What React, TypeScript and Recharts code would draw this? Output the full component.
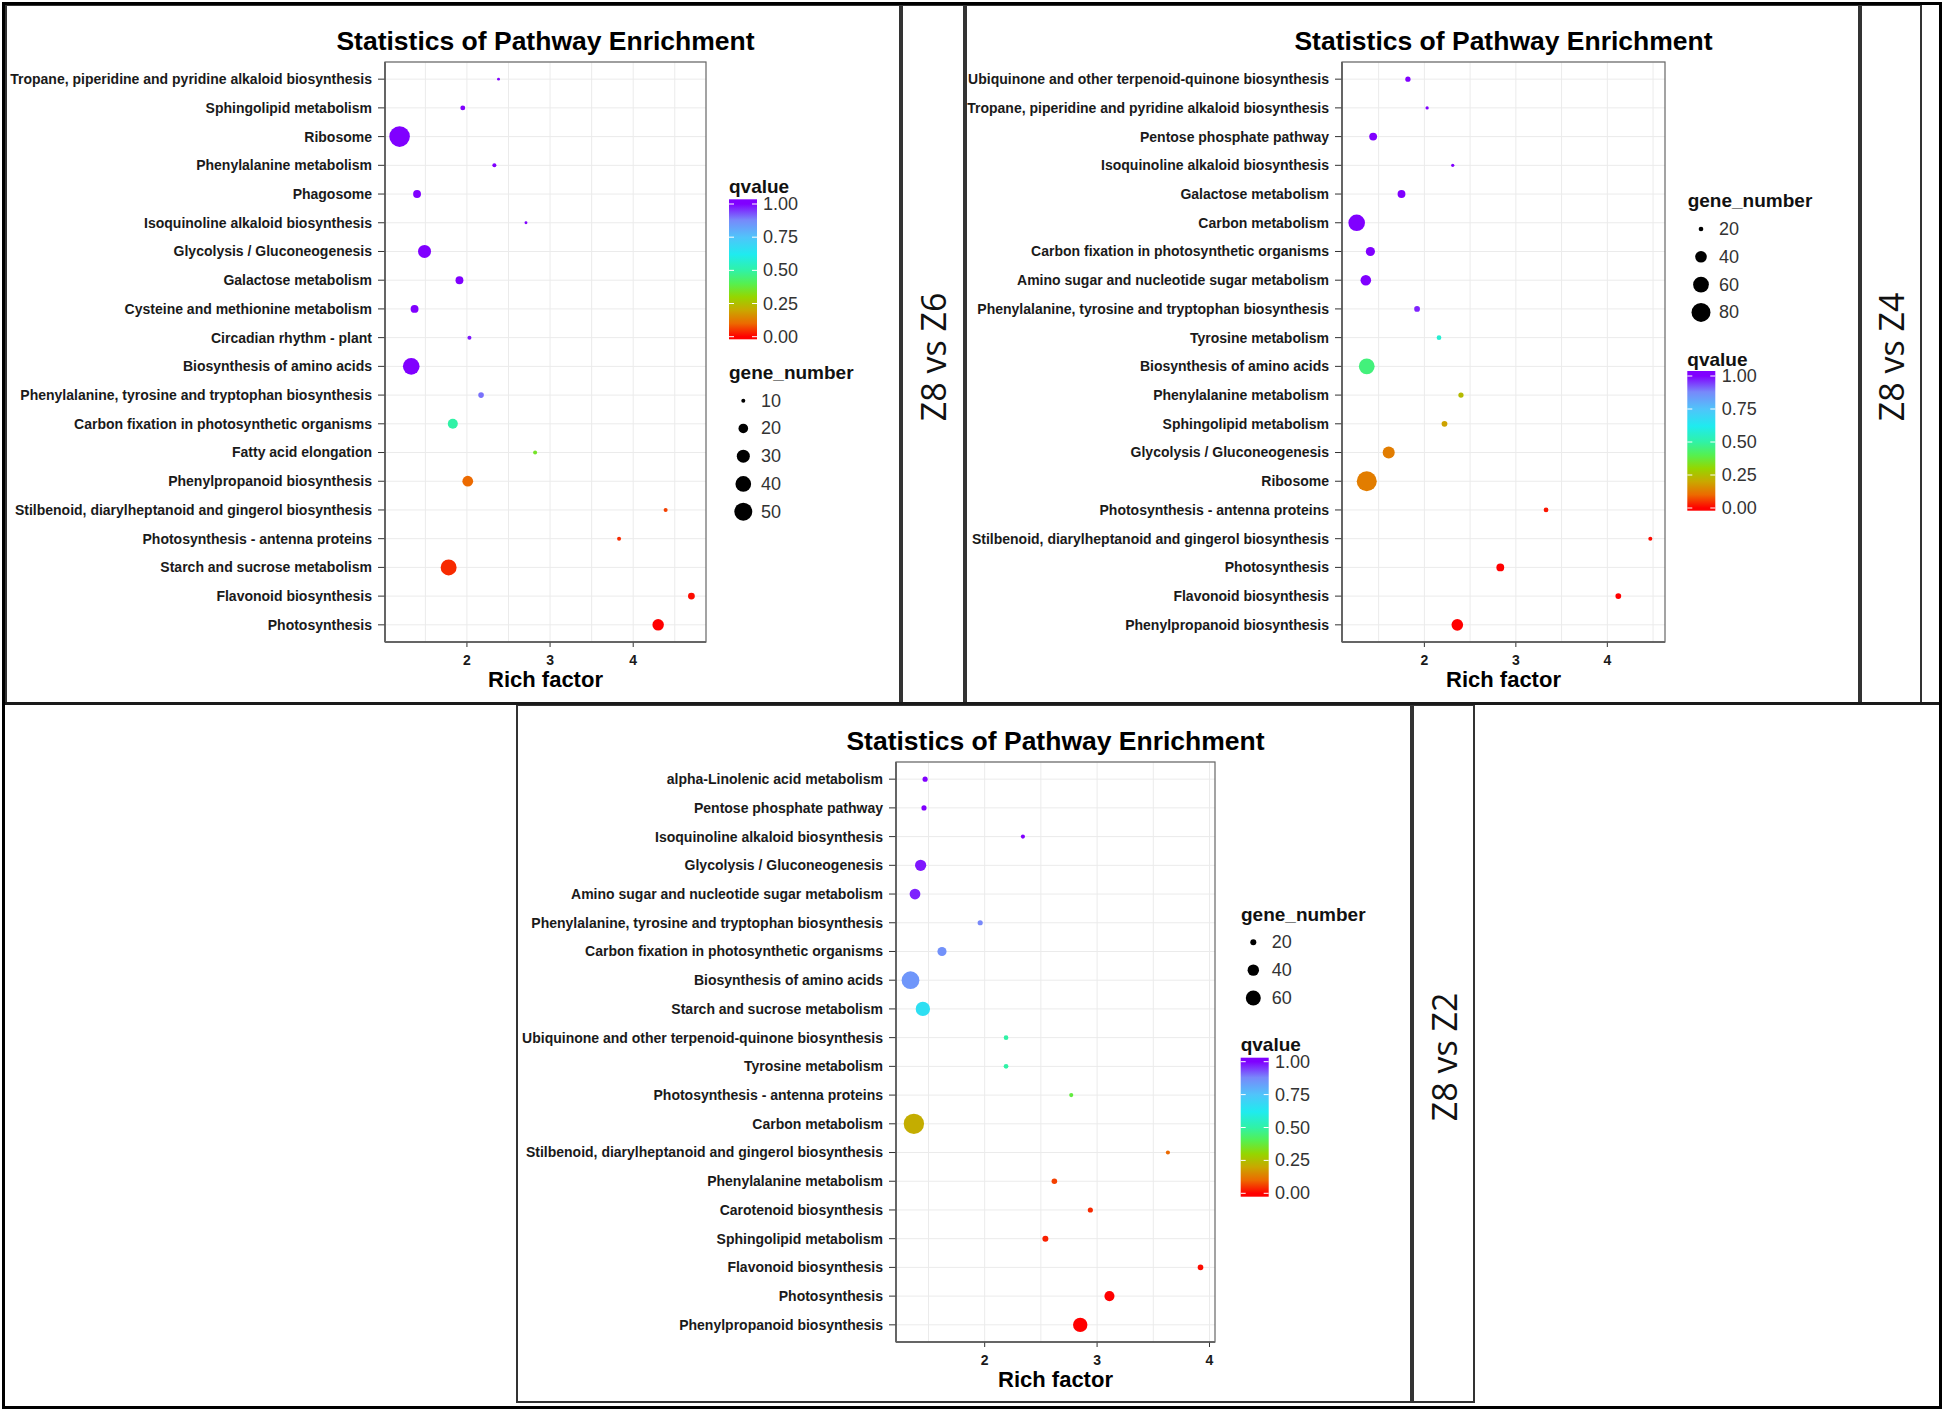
import React from 'react';
import { ScatterChart, Scatter, XAxis, YAxis, ZAxis, CartesianGrid, Cell } from 'recharts';

// ---- Z8 vs Z6 (top left), listed top to bottom
const z6Pathways = [
  'Tropane, piperidine and pyridine alkaloid biosynthesis',
  'Sphingolipid metabolism',
  'Ribosome',
  'Phenylalanine metabolism',
  'Phagosome',
  'Isoquinoline alkaloid biosynthesis',
  'Glycolysis / Gluconeogenesis',
  'Galactose metabolism',
  'Cysteine and methionine metabolism',
  'Circadian rhythm - plant',
  'Biosynthesis of amino acids',
  'Phenylalanine, tyrosine and tryptophan biosynthesis',
  'Carbon fixation in photosynthetic organisms',
  'Fatty acid elongation',
  'Phenylpropanoid biosynthesis',
  'Stilbenoid, diarylheptanoid and gingerol biosynthesis',
  'Photosynthesis - antenna proteins',
  'Starch and sucrose metabolism',
  'Flavonoid biosynthesis',
  'Photosynthesis',
];
const z6Rich = [2.38, 1.95, 1.19, 2.33, 1.4, 2.71, 1.49, 1.91, 1.37, 2.03, 1.33, 2.17, 1.83, 2.82, 2.01, 4.39, 3.83, 1.78, 4.7, 4.3];
const z6Genes = [9, 11, 63, 10, 16, 9, 30, 16, 16, 10, 44, 12, 21, 10, 23, 10, 10, 41, 14, 25];
const z6Q = [1, 1, 1, 1, 1, 1, 1, 1, 1, 0.98, 1, 0.9, 0.5, 0.35, 0.1, 0.06, 0.04, 0.04, 0.01, 0];

// ---- Z8 vs Z4 (top right)
const z4Pathways = [
  'Ubiquinone and other terpenoid-quinone biosynthesis',
  'Tropane, piperidine and pyridine alkaloid biosynthesis',
  'Pentose phosphate pathway',
  'Isoquinoline alkaloid biosynthesis',
  'Galactose metabolism',
  'Carbon metabolism',
  'Carbon fixation in photosynthetic organisms',
  'Amino sugar and nucleotide sugar metabolism',
  'Phenylalanine, tyrosine and tryptophan biosynthesis',
  'Tyrosine metabolism',
  'Biosynthesis of amino acids',
  'Phenylalanine metabolism',
  'Sphingolipid metabolism',
  'Glycolysis / Gluconeogenesis',
  'Ribosome',
  'Photosynthesis - antenna proteins',
  'Stilbenoid, diarylheptanoid and gingerol biosynthesis',
  'Photosynthesis',
  'Flavonoid biosynthesis',
  'Phenylpropanoid biosynthesis',
];
const z4Rich = [1.82, 2.03, 1.44, 2.31, 1.75, 1.26, 1.41, 1.36, 1.92, 2.16, 1.37, 2.4, 2.22, 1.61, 1.37, 3.33, 4.47, 2.83, 4.12, 2.36];
const z4Genes = [21, 18, 27, 18, 27, 65, 31, 36, 22, 20, 60, 21, 22, 42, 87, 20, 19, 27, 22, 40];
const z4Q = [1, 1, 1, 1, 1, 1, 1, 1, 0.97, 0.57, 0.45, 0.24, 0.19, 0.13, 0.13, 0.02, 0.01, 0, 0, 0];

// ---- Z8 vs Z2 (bottom)
const z2Pathways = [
  'alpha-Linolenic acid metabolism',
  'Pentose phosphate pathway',
  'Isoquinoline alkaloid biosynthesis',
  'Glycolysis / Gluconeogenesis',
  'Amino sugar and nucleotide sugar metabolism',
  'Phenylalanine, tyrosine and tryptophan biosynthesis',
  'Carbon fixation in photosynthetic organisms',
  'Biosynthesis of amino acids',
  'Starch and sucrose metabolism',
  'Ubiquinone and other terpenoid-quinone biosynthesis',
  'Tyrosine metabolism',
  'Photosynthesis - antenna proteins',
  'Carbon metabolism',
  'Stilbenoid, diarylheptanoid and gingerol biosynthesis',
  'Phenylalanine metabolism',
  'Carotenoid biosynthesis',
  'Sphingolipid metabolism',
  'Flavonoid biosynthesis',
  'Photosynthesis',
  'Phenylpropanoid biosynthesis',
];
const z2Rich = [1.47, 1.46, 2.34, 1.43, 1.38, 1.96, 1.62, 1.34, 1.45, 2.19, 2.19, 2.77, 1.37, 3.63, 2.62, 2.94, 2.54, 3.92, 3.11, 2.85];
const z2Genes = [18, 18, 16, 39, 37, 18, 30, 79, 56, 17, 17, 16, 100, 16, 19, 18, 20, 19, 34, 56];
const z2Q = [1, 1, 1, 0.98, 0.97, 0.88, 0.86, 0.85, 0.66, 0.5, 0.5, 0.38, 0.21, 0.1, 0.06, 0.04, 0.03, 0.01, 0, 0];

const qBreaks = [1, 0.75, 0.5, 0.25, 0];
const xTicks = [2, 3, 4];
const minorX = [1.5, 2, 2.5, 3, 3.5, 4, 4.5];

// rainbow-ish qvalue palette
const qStops: [number, string][] = [
  [0, '#ff0000'],
  [0.1, '#ec6a00'],
  [0.2, '#c9a800'],
  [0.3, '#95d600'],
  [0.4, '#55f050'],
  [0.5, '#30f2a6'],
  [0.62, '#1febef'],
  [0.75, '#50c4fa'],
  [0.88, '#7888fa'],
  [1, '#8000ff'],
];

function hexToRgb(h: string) {
  return [1, 3, 5].map((i) => parseInt(h.slice(i, i + 2), 16));
}

function qColor(q: number) {
  for (let i = 1; i < qStops.length; i++) {
    const [q1, c1] = qStops[i];
    const [q0, c0] = qStops[i - 1];
    if (q <= q1) {
      const t = (q - q0) / (q1 - q0);
      const a = hexToRgb(c0);
      const b = hexToRgb(c1);
      const m = a.map((v, k) => Math.round(v + (b[k] - v) * t));
      return `rgb(${m[0]},${m[1]},${m[2]})`;
    }
  }
  return qStops[qStops.length - 1][1];
}

const FONT = '"Liberation Sans", Arial, Helvetica, sans-serif';

type Box = { x: number; y: number; w: number; h: number };

type PanelCfg = {
  id: string;
  label: string;
  box: Box;
  labelBox: Box;
  plot: { x0: number; x1: number; y0: number; y1: number };
  names: string[];
  rich: number[];
  genes: number[];
  q: number[];
  size: { lo: number; hi: number; aLo: number; aHi: number };
  sizeBreaks: number[];
  sizeLegend: { x: number; titleY: number; cx: number; labelX: number; y0: number; step: number };
  qLegend: { x: number; titleY: number; barY0: number; barY1: number; labelX: number; yTop: number; yBottom: number };
};

const panels: PanelCfg[] = [
  {
    id: 'z6',
    label: 'Z8 vs Z6',
    box: { x: 5, y: 4, w: 896, h: 700 },
    labelBox: { x: 901, y: 4, w: 64, h: 700 },
    plot: { x0: 385, x1: 706, y0: 62, y1: 642 },
    names: z6Pathways,
    rich: z6Rich,
    genes: z6Genes,
    q: z6Q,
    size: { lo: 10, hi: 50, aLo: 12.6, aHi: 254 },
    sizeBreaks: [10, 20, 30, 40, 50],
    sizeLegend: { x: 729, titleY: 372.7, cx: 743.3, labelX: 761, y0: 400.7, step: 27.75 },
    qLegend: { x: 729, titleY: 186.7, barY0: 199.3, barY1: 339.3, labelX: 763, yTop: 204, yBottom: 336.7 },
  },
  {
    id: 'z4',
    label: 'Z8 vs Z4',
    box: { x: 965, y: 4, w: 895, h: 700 },
    labelBox: { x: 1860, y: 4, w: 62, h: 700 },
    plot: { x0: 1342, x1: 1665, y0: 62, y1: 642 },
    names: z4Pathways,
    rich: z4Rich,
    genes: z4Genes,
    q: z4Q,
    size: { lo: 20, hi: 80, aLo: 17.3, aHi: 283.5 },
    sizeBreaks: [20, 40, 60, 80],
    sizeLegend: { x: 1687.7, titleY: 200.7, cx: 1701, labelX: 1719, y0: 229, step: 27.8 },
    qLegend: { x: 1687.3, titleY: 359, barY0: 371, barY1: 510.7, labelX: 1721.7, yTop: 376, yBottom: 508 },
  },
  {
    id: 'z2',
    label: 'Z8 vs Z2',
    box: { x: 516, y: 704, w: 896, h: 699 },
    labelBox: { x: 1412, y: 704, w: 63, h: 699 },
    plot: { x0: 896, x1: 1215, y0: 762, y1: 1342 },
    names: z2Pathways,
    rich: z2Rich,
    genes: z2Genes,
    q: z2Q,
    size: { lo: 20, hi: 60, aLo: 28.3, aHi: 176.7 },
    sizeBreaks: [20, 40, 60],
    sizeLegend: { x: 1241, titleY: 914.3, cx: 1253.3, labelX: 1271.7, y0: 942.3, step: 27.85 },
    qLegend: { x: 1240.7, titleY: 1044.3, barY0: 1057.7, barY1: 1196.7, labelX: 1275, yTop: 1061.7, yBottom: 1193.3 },
  },
];

// symbol area for a gene count (linear in area, like ggplot's size scale)
function sizeArea(v: number, s: PanelCfg['size']) {
  return s.aLo + ((v - s.lo) / (s.hi - s.lo)) * (s.aHi - s.aLo);
}

function sizeRadius(v: number, s: PanelCfg['size']) {
  return Math.sqrt(Math.max(sizeArea(v, s), 0) / Math.PI);
}

function Panel({ cfg }: { cfg: PanelCfg }) {
  const { box, plot } = cfg;
  const data = cfg.names.map((name, i) => ({
    name,
    rich: cfg.rich[i],
    genes: cfg.genes[i],
    q: cfg.q[i],
  }));
  const lo = Math.min(...cfg.rich);
  const hi = Math.max(...cfg.rich);
  const pad = (hi - lo) * 0.05;
  const xDomain: [number, number] = [lo - pad, hi + pad];
  const gLo = Math.min(...cfg.genes);
  const gHi = Math.max(...cfg.genes);
  const xAxisH = 30;
  const margin = {
    top: plot.y0 - box.y,
    right: box.x + box.w - plot.x1,
    bottom: box.y + box.h - plot.y1 - xAxisH,
    left: 0,
  };
  const cxTitle = (plot.x0 + plot.x1) / 2;
  const ql = cfg.qLegend;
  const sl = cfg.sizeLegend;
  const barW = 28;
  const gradId = `grad-${cfg.id}`;

  return (
    <>
      <div
        style={{
          position: 'absolute',
          left: box.x,
          top: box.y,
          width: box.w,
          height: box.h,
          border: '2px solid #333',
          boxSizing: 'border-box',
        }}
      />
      <div
        style={{
          position: 'absolute',
          left: cfg.labelBox.x,
          top: cfg.labelBox.y,
          width: cfg.labelBox.w,
          height: cfg.labelBox.h,
          border: '2px solid #333',
          boxSizing: 'border-box',
        }}
      />
      <div style={{ position: 'absolute', left: box.x, top: box.y }}>
        <ScatterChart width={box.w} height={box.h} margin={margin}>
          <CartesianGrid
            stroke="#ebebeb"
            fill="#ffffff"
            verticalValues={minorX.filter((v) => v > xDomain[0] && v < xDomain[1])}
          />
          <XAxis
            type="number"
            dataKey="rich"
            domain={xDomain}
            allowDataOverflow
            ticks={xTicks}
            height={xAxisH}
            tickSize={5}
            tickMargin={8}
            axisLine={{ stroke: '#333', strokeWidth: 1.5 }}
            tickLine={{ stroke: '#333' }}
            tick={{ fontSize: 14, fontWeight: 'bold', fill: '#1a1a1a', fontFamily: FONT }}
          />
          <YAxis
            type="category"
            dataKey="name"
            width={plot.x0 - box.x}
            interval={0}
            reversed
            padding={{ top: 2.8, bottom: 2.8 }}
            tickSize={7}
            tickMargin={6}
            axisLine={{ stroke: '#333', strokeWidth: 1.5 }}
            tickLine={{ stroke: '#333' }}
            tick={{ fontSize: 14, fontWeight: 'bold', fill: '#1a1a1a', fontFamily: FONT }}
          />
          <ZAxis
            type="number"
            dataKey="genes"
            domain={[gLo, gHi]}
            range={[sizeArea(gLo, cfg.size), sizeArea(gHi, cfg.size)]}
          />
          <Scatter data={data} isAnimationActive={false}>
            {data.map((d, i) => (
              <Cell key={i} fill={qColor(d.q)} />
            ))}
          </Scatter>
        </ScatterChart>
      </div>
      <svg
        width={1944}
        height={1413}
        style={{ position: 'absolute', left: 0, top: 0, pointerEvents: 'none' }}
        fontFamily={FONT}
      >
        <defs>
          <linearGradient id={gradId} gradientUnits="userSpaceOnUse" x1={0} y1={ql.yBottom} x2={0} y2={ql.yTop}>
            {qStops.map(([q, c]) => (
              <stop key={q} offset={q} stopColor={c} />
            ))}
          </linearGradient>
        </defs>
        <rect
          x={plot.x0}
          y={plot.y0}
          width={plot.x1 - plot.x0}
          height={plot.y1 - plot.y0}
          fill="none"
          stroke="#666"
          strokeWidth={1.2}
        />
        <text x={cxTitle} y={plot.y0 - 21.5} textAnchor="middle" dominantBaseline="central" fontSize={26.5} fontWeight="bold" fill="#000">
          Statistics of Pathway Enrichment
        </text>
        <text x={cxTitle} y={plot.y1 + 37} textAnchor="middle" dominantBaseline="central" fontSize={22} fontWeight="bold" fill="#000">
          Rich factor
        </text>

        {/* qvalue colourbar */}
        <text x={ql.x} y={ql.titleY} dominantBaseline="central" fontSize={19} fontWeight="bold" fill="#111">
          qvalue
        </text>
        <rect x={ql.x} y={ql.barY0} width={barW} height={ql.barY1 - ql.barY0} fill={`url(#${gradId})`} />
        {qBreaks.map((b) => {
          const y = ql.yBottom + (ql.yTop - ql.yBottom) * b;
          return (
            <g key={b}>
              <line x1={ql.x} x2={ql.x + 5} y1={y} y2={y} stroke="#fff" strokeWidth={1} />
              <line x1={ql.x + barW - 5} x2={ql.x + barW} y1={y} y2={y} stroke="#fff" strokeWidth={1} />
              <text x={ql.labelX} y={y} dominantBaseline="central" fontSize={18} fill="#333">
                {b.toFixed(2)}
              </text>
            </g>
          );
        })}

        {/* gene_number size legend */}
        <text x={sl.x} y={sl.titleY} dominantBaseline="central" fontSize={19} fontWeight="bold" fill="#111">
          gene_number
        </text>
        {cfg.sizeBreaks.map((v, i) => (
          <g key={v}>
            <circle cx={sl.cx} cy={sl.y0 + i * sl.step} r={sizeRadius(v, cfg.size)} fill="#000" />
            <text x={sl.labelX} y={sl.y0 + i * sl.step} dominantBaseline="central" fontSize={18} fill="#333">
              {v}
            </text>
          </g>
        ))}

        <text
          x={cfg.labelBox.x + cfg.labelBox.w / 2}
          y={cfg.labelBox.y + 353}
          textAnchor="middle"
          dominantBaseline="central"
          fontSize={34}
          fontFamily='"Open Sans", "Noto Sans", sans-serif'
          fill="#111"
          transform={`rotate(-90 ${cfg.labelBox.x + cfg.labelBox.w / 2} ${cfg.labelBox.y + 353})`}
        >
          {cfg.label}
        </text>
      </svg>
    </>
  );
}

export default function App() {
  return (
    <div
      style={{
        position: 'absolute',
        left: 0,
        top: 0,
        width: 1944,
        height: 1413,
        background: '#fff',
        overflow: 'hidden',
      }}
    >
      {panels.map((p) => (
        <Panel key={p.id} cfg={p} />
      ))}
      <div style={{ position: 'absolute', left: 2, top: 702, width: 1940, height: 3, background: '#1a1a1a' }} />
      <div
        style={{
          position: 'absolute',
          left: 2,
          top: 2,
          width: 1940,
          height: 1407,
          border: '3px solid #000',
          boxSizing: 'border-box',
        }}
      />
    </div>
  );
}
